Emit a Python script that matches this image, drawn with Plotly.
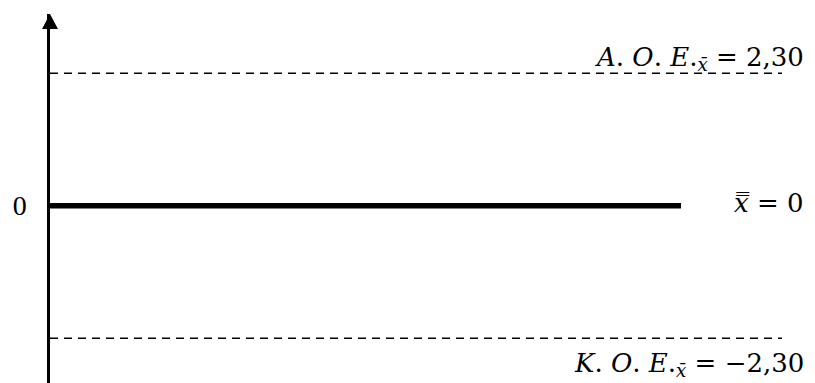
import plotly.graph_objects as go

# Control chart schematic: centre line and control limits for the mean
line_keys = ["upper", "center", "lower"]
line_values = [2.30, 0.0, -2.30]
label_prefix = {
    "upper": "<i>A</i>. <i>O</i>. <i>E</i>.<sub><i>x̄</i></sub> = ",
    "center": "<i>x̿</i> = ",
    "lower": "<i>K</i>. <i>O</i>. <i>E</i>.<sub><i>x̄</i></sub> = ",
}
y_tick_values = [0]
y_tick_text = ["0"]


def fmt(v):
    s = f"{abs(v):.2f}" if v != 0 else "0"
    s = s.replace(".", ",")
    return ("−" + s) if v < 0 else s


FONT = "DejaVu Serif"
TICK_FONT = "Liberation Serif"
values = dict(zip(line_keys, line_values))

fig = go.Figure()

# dashed control limits
for key in ("upper", "lower"):
    fig.add_trace(go.Scatter(
        x=[0, 732], y=[values[key], values[key]], mode="lines",
        line=dict(color="black", width=1.5, dash="8px,6px"),
        hoverinfo="skip", showlegend=False,
    ))

# centre line
fig.add_trace(go.Scatter(
    x=[0, 631], y=[values["center"], values["center"]], mode="lines",
    line=dict(color="black", width=5.5),
    hoverinfo="skip", showlegend=False,
))

annotations = [
    dict(x=756, y=values["upper"], xref="x", yref="y", xanchor="right", yanchor="bottom",
         text=label_prefix["upper"] + fmt(values["upper"]), showarrow=False, yshift=-4),
    dict(x=756, y=values["center"], xref="x", yref="y", xanchor="right", yanchor="middle",
         text=label_prefix["center"] + fmt(values["center"]), showarrow=False, yshift=3),
    dict(x=756, y=values["lower"], xref="x", yref="y", xanchor="right", yanchor="top",
         text=label_prefix["lower"] + fmt(values["lower"]), showarrow=False, yshift=-8),
]
for a in annotations:
    a["font"] = dict(family=FONT, size=26, color="black")

fig.update_layout(
    width=815, height=383,
    margin=dict(l=50, r=0, t=14, b=0),
    paper_bgcolor="white", plot_bgcolor="white",
    annotations=annotations,
    shapes=[
        # arrow head on the vertical axis
        dict(type="path", xref="paper", yref="paper", xsizemode="pixel", ysizemode="pixel",
             xanchor=0, yanchor=1, path="M -8,-15 L 8,-15 L 0,0 Z",
             fillcolor="black", line=dict(width=0)),
    ],
    xaxis=dict(range=[0, 765], visible=False),
    yaxis=dict(range=[-3.079, 3.328], showgrid=False, zeroline=False,
               showline=True, linecolor="black", linewidth=2.5,
               tickvals=y_tick_values, ticktext=y_tick_text, ticks="",
               ticklabelstandoff=15,
               tickfont=dict(family=TICK_FONT, size=28, color="black")),
)

fig.write_html("out.html")
